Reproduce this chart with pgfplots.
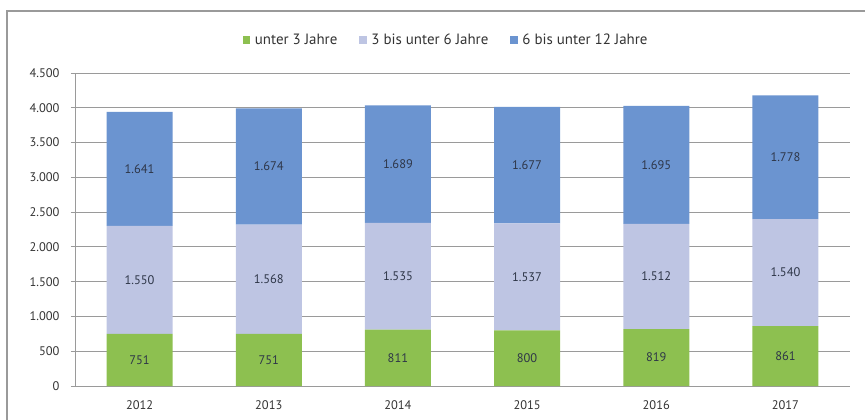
\documentclass[border=0pt]{standalone}
\usepackage{fontspec}
\setmainfont{PT Sans}
\usepackage{pgfplots}
\pgfplotsset{compat=1.18}
\definecolor{cgreen}{HTML}{8DC050}
\definecolor{clav}{HTML}{BEC5E3}
\definecolor{cblue}{HTML}{6B94D0}
\definecolor{cgrid}{HTML}{9A9A9A}
\definecolor{ctext}{HTML}{333333}
\definecolor{clabel}{HTML}{2E3648}
\newcommand{\cf}{\fontsize{12.5}{14}\selectfont}
\newcommand{\lf}{\fontsize{15}{17}\selectfont}
\begin{document}
\begin{tikzpicture}[x=1bp,y=1bp]
\useasboundingbox (0,0) rectangle (865,419);
\draw[cgrid, line width=1.2bp] (7,-5) -- (7,408) -- (880,408);
\begin{axis}[
  at={(75bp,33bp)}, anchor=south west,
  scale only axis, width=775bp, height=313bp,
  ybar stacked, bar width=66bp,
  xmin=-0.5, xmax=5.5, ymin=0, ymax=4500,
  xtick={0,1,2,3,4,5},
  xticklabels={2012,2013,2014,2015,2016,2017},
  ytick={0,500,...,4500},
  axis lines=left, axis line style={cgrid, line width=0.8bp, -},
  ymajorgrids, grid style={cgrid, line width=0.8bp},
  major tick length=4bp,
  xtick style={draw=none},
  ytick style={cgrid, line width=0.8bp},
  ytick align=outside,
  tick label style={font=\cf, text=ctext},
  /pgf/number format/1000 sep={.},
  /pgf/number format/use comma,
  /pgf/number format/assume math mode=true,
  yticklabel style={xshift=-8bp},
  xticklabel style={yshift=-9bp},
  nodes near coords,
  every node near coord/.append style={anchor=center, font=\cf, text=clabel},
  legend columns=3,
  legend style={at={(axis description cs:0.479,1)}, anchor=center, yshift=33bp,
    draw=none, fill=none, text=ctext,
    /tikz/every even column/.append style={column sep=20bp}},
  legend image code/.code={\fill[#1] (0bp,-3.8bp) rectangle (7.6bp,3.8bp);
     \path (10bp,0bp);},
]
\addplot[fill=cgreen, draw=none] coordinates {(0,751) (1,751) (2,811) (3,800) (4,819) (5,861)};
\addlegendentry{\lf unter 3 Jahre}
\addplot[fill=clav, draw=none] coordinates {(0,1550) (1,1568) (2,1535) (3,1537) (4,1512) (5,1540)};
\addlegendentry{\lf 3 bis unter 6 Jahre}
\addplot[fill=cblue, draw=none] coordinates {(0,1641) (1,1674) (2,1689) (3,1677) (4,1695) (5,1778)};
\addlegendentry{\lf 6 bis unter 12 Jahre}
\end{axis}
\end{tikzpicture}
\end{document}
